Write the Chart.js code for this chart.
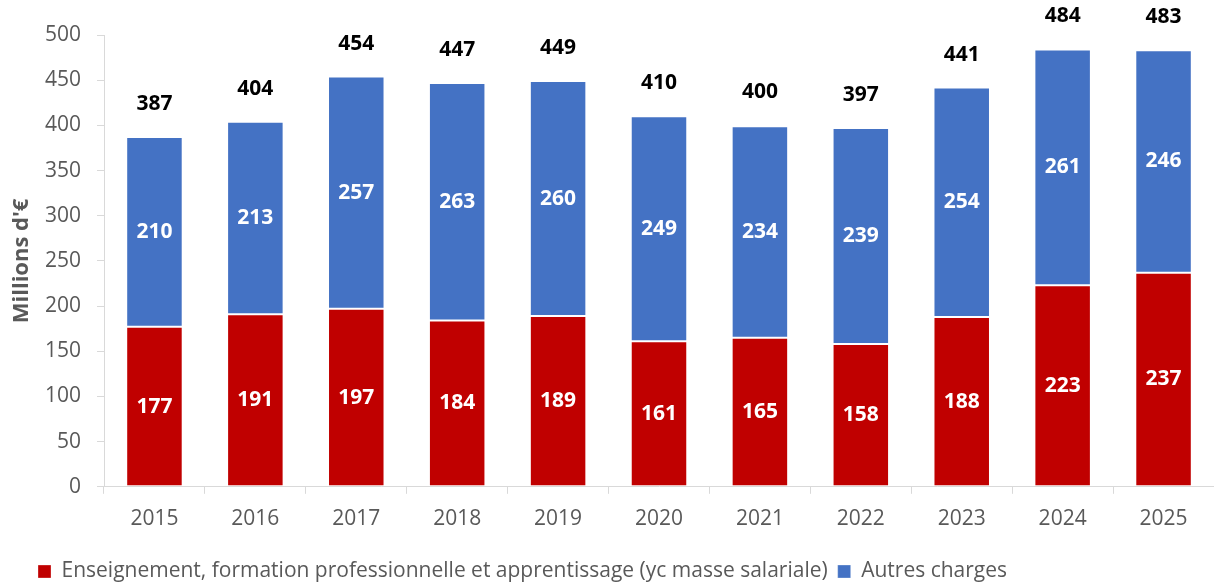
<!DOCTYPE html>
<html><head><meta charset="utf-8">
<script src="https://cdn.jsdelivr.net/npm/chart.js@4"></script>
<style>html,body{margin:0;padding:0;background:#fff}#wrap{width:1214px;height:586px;position:relative}</style>
</head><body><div id="wrap"><canvas id="c"></canvas></div>
<script>
const years = ['2015','2016','2017','2018','2019','2020','2021','2022','2023','2024','2025'];
const enseignement = [177,191,197,184,189,161,165,158,188,223,237];
const autres = [210,213,257,263,260,249,234,239,254,261,246];
const totals = [387,404,454,447,449,410,400,397,441,484,483];
const yTicks = [0,50,100,150,200,250,300,350,400,450,500];
const FONT = "'Open Sans', sans-serif";
const GREY = '#595959';
const AXIS = '#d9d9d9';

const labelPlugin = {
  id: 'labels',
  afterDatasetsDraw(chart) {
    const ctx = chart.ctx;
    ctx.save();
    ctx.font = 'bold 21px ' + FONT;
    ctx.textAlign = 'center';
    ctx.textBaseline = 'middle';
    chart.data.datasets.forEach((ds, i) => {
      const meta = chart.getDatasetMeta(i);
      meta.data.forEach((el, j) => {
        ctx.fillStyle = '#ffffff';
        ctx.fillText(String(ds.data[j]), el.x, (el.y + el.base) / 2);
      });
    });
    const ys = chart.scales.y;
    const meta = chart.getDatasetMeta(1);
    ctx.fillStyle = '#000000';
    meta.data.forEach((el, j) => {
      ctx.fillText(String(totals[j]), el.x, ys.getPixelForValue(totals[j]) - 33);
    });
    ctx.restore();
  }
};
const legendShift = { id: 'legendShift', afterLayout(chart) { chart.legend.left += 28; chart.legend.top += 6; } };

new Chart(document.getElementById('c'), {
  type: 'bar',
  data: {
    labels: years,
    datasets: [
      { label: 'Enseignement, formation professionnelle et apprentissage (yc masse salariale)', data: enseignement,
        backgroundColor: '#C00000', borderColor: 'rgba(255,255,255,0.3)', borderWidth: 1, borderSkipped: false },
      { label: 'Autres charges', data: autres,
        backgroundColor: '#4472C4', borderColor: 'rgba(255,255,255,0.3)', borderWidth: 1, borderSkipped: false }
    ]
  },
  options: {
    responsive: true,
    maintainAspectRatio: false,
    animation: false,
    datasets: { bar: { categoryPercentage: 1, barPercentage: 0.56 } },
    layout: { padding: { top: 35, right: 0, left: 0, bottom: 0 } },
    plugins: {
      tooltip: { enabled: false },
      legend: {
        position: 'bottom', align: 'start',
        labels: { boxWidth: 13, boxHeight: 13, padding: 10, color: GREY, font: { family: FONT, size: 21 } }
      }
    },
    scales: {
      x: {
        stacked: true,
        grid: { display: true, drawOnChartArea: false, tickLength: 7, color: AXIS, offset: true },
        border: { color: AXIS, width: 1 },
        ticks: { color: GREY, font: { family: FONT, size: 21 }, padding: 13 }
      },
      y: {
        stacked: true, min: 0, max: 500,
        afterBuildTicks: s => { s.ticks = yTicks.map(v => ({ value: v })); },
        afterFit: s => { s.width = 104; },
        grid: { display: true, drawOnChartArea: false, tickLength: 7, color: AXIS },
        border: { color: AXIS, width: 1 },
        ticks: { color: GREY, font: { family: FONT, size: 21 }, padding: 16 },
        title: { display: true, text: "Millions d'€", color: GREY, font: { family: FONT, size: 22, weight: 'bold' }, padding: { top: 9, bottom: 0 } }
      }
    }
  },
  plugins: [labelPlugin, legendShift]
});
</script></body></html>
